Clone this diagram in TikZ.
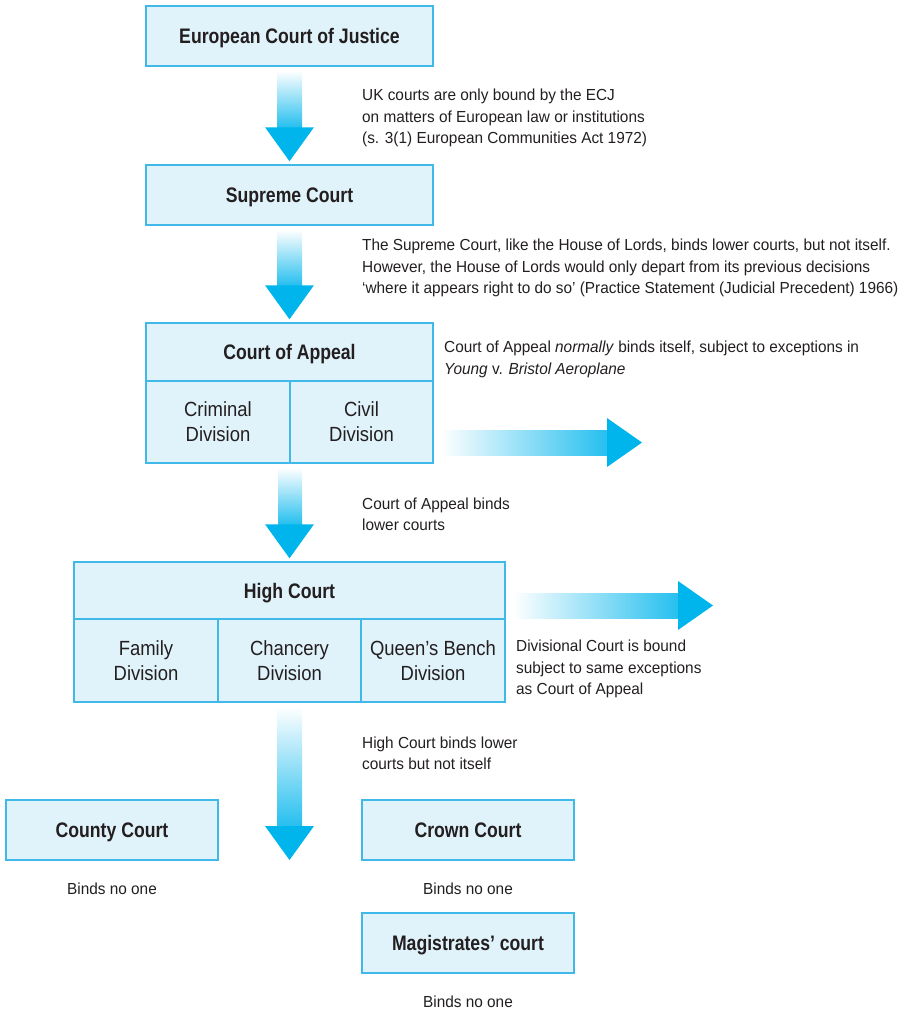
\documentclass[tikz,border=0pt]{standalone}
\usepackage{fontspec}
\setmainfont{Liberation Sans}[FakeStretch=0.96]
\newfontfamily\courtfont{Liberation Sans}[FakeStretch=0.84]
\newfontfamily\divisionfont{Liberation Sans}[FakeStretch=0.9]
\usetikzlibrary{calc}
\definecolor{boxfill}{RGB}{224,242,250}
\definecolor{boxline}{RGB}{64,184,232}
\definecolor{bindcyan}{RGB}{0,180,236}
\definecolor{inktext}{RGB}{35,31,32}
\newcommand\binddown[2]{%
  \shade[top color=white,bottom color=bindcyan!85] ($(#1)+(-12.5,4)$) rectangle ($(#2)+(12.5,-37)$);
  \fill[bindcyan] ($(#2)+(-24.5,-37)$) -- ($(#2)+(24.5,-37)$) -- ($(#2)+(0,-3)$) -- cycle;}
\newcommand\bindright[2]{%
  \shade[left color=white,right color=bindcyan!85] ($(#1)+(7,-12.5)$) rectangle ($(#2)+(-35,12.5)$);
  \fill[bindcyan] ($(#2)+(-35,-24.5)$) -- ($(#2)+(-35,24.5)$) -- (#2) -- cycle;}

\begin{document}
\begin{tikzpicture}[x=1pt,y=-1pt,
  court/.style={draw=boxline,fill=boxfill,line width=1.5pt,inner sep=0pt,text=inktext,text height=15pt,text depth=0pt,font=\courtfont\fontsize{21}{24}\selectfont\bfseries},
  division/.style={court,font=\divisionfont\fontsize{20.5}{25}\selectfont,align=center,minimum height=83pt,text height={},text depth={}},
  note/.style={anchor=west,align=left,inner sep=0pt,text=inktext,font=\fontsize{16}{21.5}\selectfont},
  nobody/.style={inner sep=0pt,text=inktext,font=\fontsize{16}{18}\selectfont}]
\useasboundingbox (0,0) rectangle (912,1010);
\node[court,minimum width=287pt,minimum height=60pt] (ecj) at (289.5,36) {European Court of Justice};
\node[court,minimum width=287pt,minimum height=60pt] (supreme) at (289.5,195) {Supreme Court};
\node[court,minimum width=287pt,minimum height=58pt] (appeal) at (289.5,352) {Court of Appeal};
\node[division,minimum width=144pt,minimum height=82pt] (criminal) at (218,422) {Criminal\\Division};
\node[division,minimum width=143pt,minimum height=82pt] (civil) at (361.5,422) {Civil\\Division};
\node[court,minimum width=431pt,minimum height=57pt] (high) at (289.5,590.5) {High Court};
\node[division,minimum width=144pt] (family) at (146,660.5) {Family\\Division};
\node[division,minimum width=143pt] (chancery) at (289.5,660.5) {Chancery\\Division};
\node[division,minimum width=144pt] (queens) at (433,660.5) {Queen’s Bench\\Division};
\node[court,minimum width=212pt,minimum height=60pt] (county) at (112,830) {County Court};
\node[court,minimum width=212pt,minimum height=60pt] (crown) at (468,830) {Crown Court};
\node[court,minimum width=212pt,minimum height=60pt] (magistrates) at (468,943) {Magistrates’ court};
\node[note] (ecjnote) at (362,118) {UK courts are only bound by the ECJ\\on matters of European law or institutions\\(s. 3(1) European Communities Act 1972)};
\node[note] (supremenote) at (362,268) {The Supreme Court, like the House of Lords, binds lower courts, but not itself.\\However, the House of Lords would only depart from its previous decisions\\‘where it appears right to do so’ (Practice Statement (Judicial Precedent) 1966)};
\node[note] (selfnote) at (444,359.5) {Court of Appeal \textit{normally} binds itself, subject to exceptions in\\\textit{Young} v. \textit{Bristol Aeroplane}};
\node[note] (appealnote) at (362,514.5) {Court of Appeal binds\\lower courts};
\node[note] (divnote) at (516,669) {Divisional Court is bound\\subject to same exceptions\\as Court of Appeal};
\node[note] (highnote) at (362,753.5) {High Court binds lower\\courts but not itself};
\node[nobody] (countynote) at (112,889) {Binds no one};
\node[nobody] (crownnote) at (468,889) {Binds no one};
\node[nobody] (magnote) at (468,1002) {Binds no one};
\coordinate (appealout) at (642,442.5);
\coordinate (appealin) at (civil.east |- appealout);
\coordinate (highout) at (713,605.5);
\coordinate (highin) at (queens.east |- highout);
\coordinate (lowtip) at (289.5,863);
\binddown{ecj.south}{supreme.north}
\binddown{supreme.south}{appeal.north}
\binddown{criminal.south east}{high.north}
\binddown{chancery.south}{lowtip}
\bindright{appealin}{appealout}
\bindright{highin}{highout}
\end{tikzpicture}
\end{document}
